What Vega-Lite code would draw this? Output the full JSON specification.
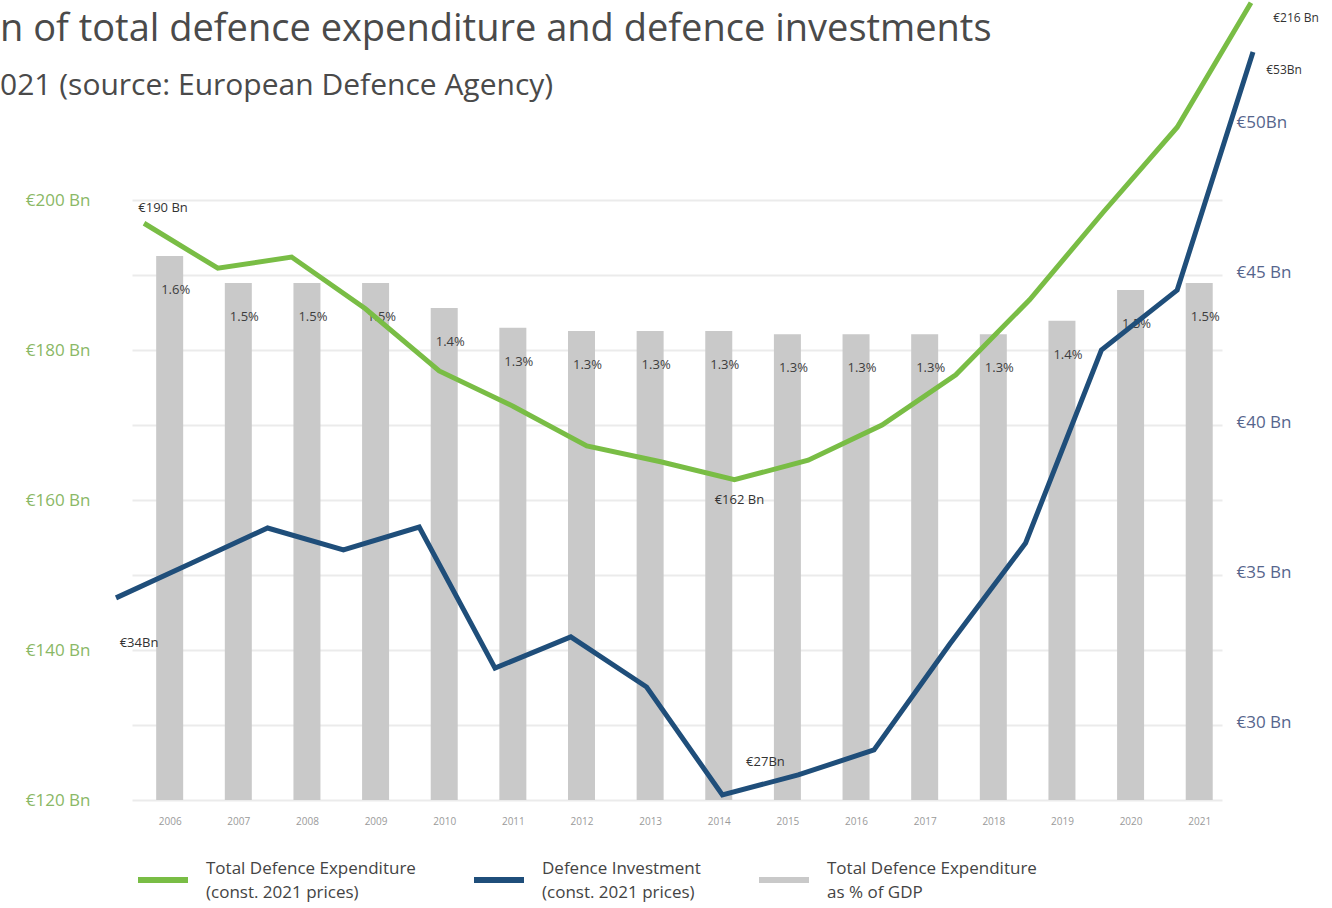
{
  "$schema": "https://vega.github.io/schema/vega-lite/v6.json",
  "width": 1090,
  "height": 750,
  "autosize": {"type": "none"},
  "padding": {"left": 132, "top": 50, "right": 110, "bottom": 108},
  "background": "white",
  "config": {"view": {"stroke": null}, "font": "Open Sans"},
  "title": {
    "text": "n of total defence expenditure and defence investments",
    "subtitle": "021 (source: European Defence Agency)",
    "anchor": "start",
    "frame": "group",
    "dx": -132,
    "offset": -108,
    "font": "Open Sans",
    "fontSize": 38,
    "fontWeight": "normal",
    "color": "#4a4a4a",
    "subtitleFont": "Open Sans",
    "subtitleFontSize": 30,
    "subtitleColor": "#4a4a4a",
    "subtitlePadding": 22
  },
  "datasets": {
    "bars": [
      {"year": 2006, "pct": 0.01554},
      {"year": 2007, "pct": 0.01477},
      {"year": 2008, "pct": 0.01477},
      {"year": 2009, "pct": 0.01477},
      {"year": 2010, "pct": 0.01406},
      {"year": 2011, "pct": 0.01349},
      {"year": 2012, "pct": 0.0134},
      {"year": 2013, "pct": 0.0134},
      {"year": 2014, "pct": 0.0134},
      {"year": 2015, "pct": 0.01331},
      {"year": 2016, "pct": 0.01331},
      {"year": 2017, "pct": 0.01331},
      {"year": 2018, "pct": 0.01331},
      {"year": 2019, "pct": 0.01369},
      {"year": 2020, "pct": 0.01457},
      {"year": 2021, "pct": 0.01477}
    ],
    "total": [
      {"year": 2006, "total": 196.9, "note": "€190 Bn"},
      {"year": 2007, "total": 190.9},
      {"year": 2008, "total": 192.4},
      {"year": 2009, "total": 185.5},
      {"year": 2010, "total": 177.2},
      {"year": 2011, "total": 172.5},
      {"year": 2012, "total": 167.2},
      {"year": 2013, "total": 165.1},
      {"year": 2014, "total": 162.7, "note": "€162 Bn"},
      {"year": 2015, "total": 165.3},
      {"year": 2016, "total": 170.0},
      {"year": 2017, "total": 176.7},
      {"year": 2018, "total": 186.7},
      {"year": 2019, "total": 198.4},
      {"year": 2020, "total": 209.7},
      {"year": 2021, "total": 226.3, "note": "€216 Bn"}
    ],
    "invest": [
      {"year": 2006, "invest": 34.17, "note": "€34Bn"},
      {"year": 2007, "invest": 35.33},
      {"year": 2008, "invest": 36.5},
      {"year": 2009, "invest": 35.77},
      {"year": 2010, "invest": 36.53},
      {"year": 2011, "invest": 31.83},
      {"year": 2012, "invest": 32.87},
      {"year": 2013, "invest": 31.2},
      {"year": 2014, "invest": 27.6, "note": "€27Bn"},
      {"year": 2015, "invest": 28.27},
      {"year": 2016, "invest": 29.1},
      {"year": 2017, "invest": 32.63},
      {"year": 2018, "invest": 36.0},
      {"year": 2019, "invest": 42.43},
      {"year": 2020, "invest": 44.43},
      {"year": 2021, "invest": 52.37, "note": "€53Bn"}
    ]
  },
  "layer": [
    {
      "data": {"name": "bars"},
      "encoding": {
        "x": {
          "field": "year",
          "type": "quantitative",
          "scale": {"domain": [2005.524, 2021.259], "nice": false, "zero": false},
          "axis": {
            "values": [2006, 2007, 2008, 2009, 2010, 2011, 2012, 2013, 2014, 2015, 2016, 2017, 2018, 2019, 2020, 2021],
            "format": "d",
            "labelFontSize": 10,
            "labelColor": "#9a9a9a",
            "ticks": false,
            "domain": false,
            "grid": false,
            "labelPadding": 16,
            "title": null
          }
        },
        "y": {
          "field": "pct",
          "type": "quantitative",
          "scale": {"domain": [0, 0.021429], "nice": false, "zero": true},
          "axis": null
        }
      },
      "layer": [
        {
          "mark": {"type": "bar", "width": 27},
          "encoding": {
            "color": {
              "datum": "Total Defence Expenditure|as % of GDP",
              "scale": {
                "domain": ["Total Defence Expenditure|(const. 2021 prices)", "Defence Investment|(const. 2021 prices)", "Total Defence Expenditure|as % of GDP"],
                "range": ["#79bd45", "#1f4e7a", "#c9c9c9"]
              },
              "legend": {
                "orient": "none",
                "legendX": 3,
                "legendY": 802,
                "direction": "horizontal",
                "title": null,
                "symbolType": "stroke",
                "symbolSize": 2500,
                "symbolStrokeWidth": 6,
                "labelExpr": "split(datum.label, '|')",
                "labelFont": "Open Sans",
                "labelFontSize": 17,
                "labelColor": "#444444",
                "labelOffset": 15,
                "labelLimit": 300,
                "columnPadding": 46,
                "encode": {
                  "symbols": {"update": {"stroke": {"scale": "color", "field": "value"}, "fill": {"value": "transparent"}, "strokeWidth": {"value": 6}}},
                  "labels": {"update": {"lineHeight": {"value": 24}, "dy": {"value": -11}}}
                }
              }
            }
          }
        },
        {
          "mark": {"type": "text", "dx": 6, "dy": 34, "fontSize": 13, "color": "#3d3d3d", "baseline": "middle"},
          "encoding": {"text": {"field": "pct", "type": "quantitative", "format": ".1%"}}
        }
      ]
    },
    {
      "data": {"name": "total"},
      "encoding": {
        "x": {
          "field": "year",
          "type": "quantitative",
          "scale": {"domain": [2005.837, 2020.607], "nice": false, "zero": false},
          "axis": null
        },
        "y": {
          "field": "total",
          "type": "quantitative",
          "scale": {"domain": [120, 220], "nice": false, "zero": false},
          "axis": {
            "orient": "left",
            "values": [120, 130, 140, 150, 160, 170, 180, 190, 200],
            "labelExpr": "datum.value % 20 === 0 ? '€' + datum.value + ' Bn' : ''",
            "grid": true,
            "gridColor": "#ebebeb",
            "gridWidth": 2,
            "ticks": false,
            "domain": false,
            "labelFont": "Open Sans",
            "labelFontSize": 17,
            "labelColor": "#8ab865",
            "labelPadding": 42,
            "title": null
          }
        }
      },
      "layer": [
        {
          "mark": {"type": "line", "strokeWidth": 5},
          "encoding": {
            "color": {
              "datum": "Total Defence Expenditure|(const. 2021 prices)",
              "scale": {
                "domain": ["Total Defence Expenditure|(const. 2021 prices)", "Defence Investment|(const. 2021 prices)", "Total Defence Expenditure|as % of GDP"],
                "range": ["#79bd45", "#1f4e7a", "#c9c9c9"]
              }
            }
          }
        },
        {
          "transform": [{"filter": "datum.year == 2006"}],
          "mark": {"type": "text", "dx": 19, "dy": -15, "fontSize": 13, "color": "#333333"},
          "encoding": {"text": {"field": "note"}}
        },
        {
          "transform": [{"filter": "datum.year == 2014"}],
          "mark": {"type": "text", "dx": 5, "dy": 20, "fontSize": 13, "color": "#333333"},
          "encoding": {"text": {"field": "note"}}
        },
        {
          "transform": [{"filter": "datum.year == 2021"}],
          "mark": {"type": "text", "dx": 45, "dy": 15, "fontSize": 12, "color": "#333333"},
          "encoding": {"text": {"field": "note"}}
        }
      ]
    },
    {
      "data": {"name": "invest"},
      "encoding": {
        "x": {
          "field": "year",
          "type": "quantitative",
          "scale": {"domain": [2006.211, 2020.591], "nice": false, "zero": false},
          "axis": null
        },
        "y": {
          "field": "invest",
          "type": "quantitative",
          "scale": {"domain": [27.433, 52.433], "nice": false, "zero": false},
          "axis": {
            "orient": "right",
            "values": [30, 35, 40, 45, 50],
            "labelExpr": "datum.value === 50 ? '€50Bn' : '€' + datum.value + ' Bn'",
            "grid": false,
            "ticks": false,
            "domain": false,
            "labelFont": "Open Sans",
            "labelFontSize": 17,
            "labelColor": "#56658c",
            "labelPadding": 14,
            "title": null
          }
        }
      },
      "layer": [
        {
          "mark": {"type": "line", "strokeWidth": 5},
          "encoding": {
            "color": {
              "datum": "Defence Investment|(const. 2021 prices)",
              "scale": {
                "domain": ["Total Defence Expenditure|(const. 2021 prices)", "Defence Investment|(const. 2021 prices)", "Total Defence Expenditure|as % of GDP"],
                "range": ["#79bd45", "#1f4e7a", "#c9c9c9"]
              }
            }
          }
        },
        {
          "transform": [{"filter": "datum.year == 2006"}],
          "mark": {"type": "text", "dx": 23, "dy": 45, "fontSize": 13, "color": "#333333"},
          "encoding": {"text": {"field": "note"}}
        },
        {
          "transform": [{"filter": "datum.year == 2014"}],
          "mark": {"type": "text", "dx": 43, "dy": -33, "fontSize": 13, "color": "#333333"},
          "encoding": {"text": {"field": "note"}}
        },
        {
          "transform": [{"filter": "datum.year == 2021"}],
          "mark": {"type": "text", "dx": 31, "dy": 18, "fontSize": 12, "color": "#333333"},
          "encoding": {"text": {"field": "note"}}
        }
      ]
    }
  ],
  "resolve": {
    "scale": {"x": "independent", "y": "independent", "color": "shared"},
    "axis": {"x": "independent", "y": "independent"}
  }
}
